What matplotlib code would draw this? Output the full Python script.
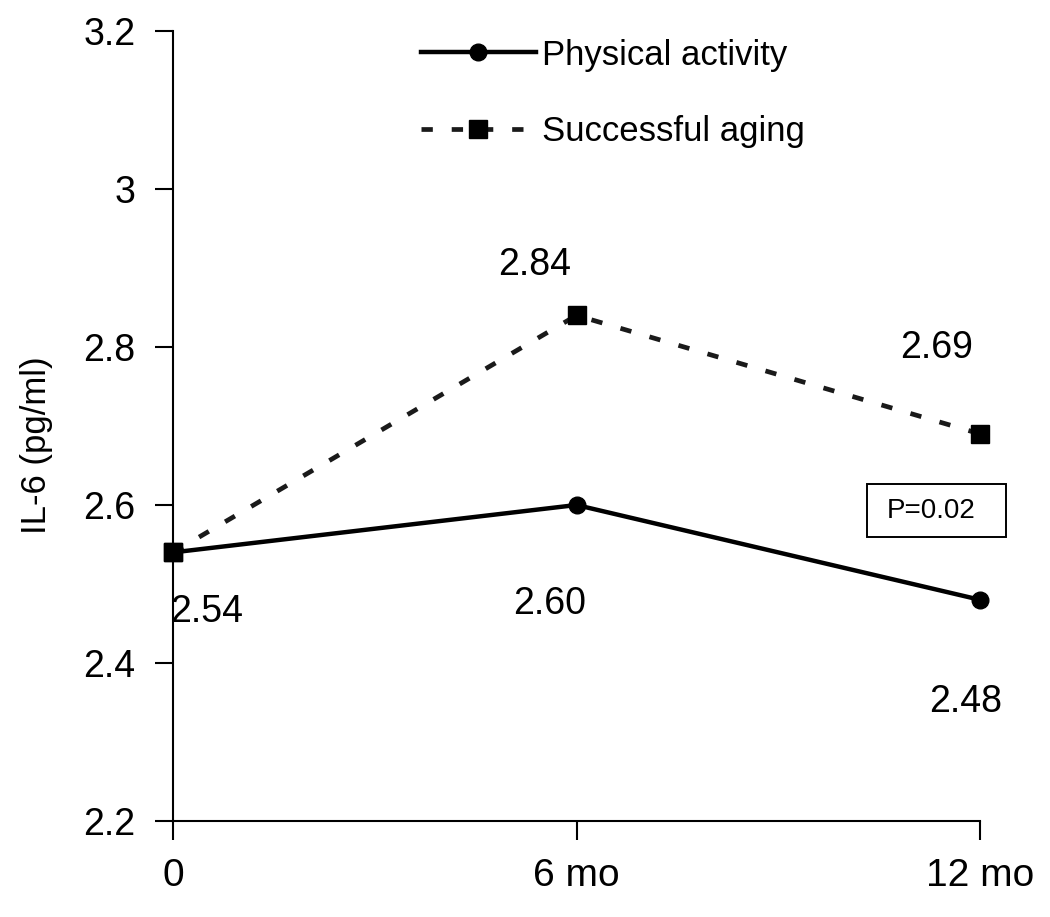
import matplotlib
matplotlib.use('Agg')
import matplotlib.pyplot as plt
from matplotlib.patches import Rectangle

plt.rcParams['font.family'] = ['Liberation Sans', 'DejaVu Sans']

x_pos = [0, 6, 12]
x_labels = ['0', '6 mo', '12 mo']
physical = [2.54, 2.60, 2.48]
aging = [2.54, 2.84, 2.69]
phys_labels = ['2.54', '2.60', '2.48']
aging_labels = ['', '2.84', '2.69']

fig = plt.figure(figsize=(10.5, 9.17), dpi=100)
ax = fig.add_axes([173 / 1050, 1 - 821 / 917, (980 - 173) / 1050, (821 - 31) / 917])

ax.plot(x_pos, aging, color='#1a1a1a', lw=3.4, ls=(0, (2.4, 4)),
        marker='s', ms=13, mfc='black', mec='black', label='Successful aging', clip_on=False)
ax.plot(x_pos, physical, color='black', lw=3.2, marker='o', ms=12,
        label='Physical activity', clip_on=False, zorder=3)
# square at 0 sits on top of the solid line
ax.plot(x_pos[:1], aging[:1], ls='none', marker='s', ms=13, color='black', clip_on=False, zorder=4)

ax.set_xlim(0, 12)
ax.set_ylim(2.2, 3.2)
ax.set_yticks([2.2, 2.4, 2.6, 2.8, 3.0, 3.2])
ax.set_yticklabels(['2.2', '2.4', '2.6', '2.8', '3', '3.2'], fontsize=27)
ax.set_xticks(x_pos)
ax.set_xticklabels(x_labels, fontsize=28)
ax.tick_params(axis='y', direction='out', length=13, width=1.5, pad=14)
ax.tick_params(axis='x', direction='out', length=14, width=1.5, pad=13)
for s in ['top', 'right']:
    ax.spines[s].set_visible(False)
for s in ['left', 'bottom']:
    ax.spines[s].set_linewidth(1.5)

fig.text(37 / 1050, 1 - 445 / 917, 'IL-6 (pg/ml)', fontsize=25, rotation=90,
         ha='center', va='center')

# value labels
fig.text(207 / 1050, 1 - 612 / 917, phys_labels[0], fontsize=27, ha='center', va='center')
fig.text(550 / 1050, 1 - 604 / 917, phys_labels[1], fontsize=27, ha='center', va='center')
fig.text(966 / 1050, 1 - 702 / 917, phys_labels[2], fontsize=27, ha='center', va='center')
fig.text(535 / 1050, 1 - 265 / 917, aging_labels[1], fontsize=27, ha='center', va='center')
fig.text(937 / 1050, 1 - 348 / 917, aging_labels[2], fontsize=27, ha='center', va='center')

# p-value box
fig.patches.append(Rectangle((867 / 1050, 1 - 537 / 917), 139 / 1050, 53 / 917,
                             transform=fig.transFigure, fc='white', ec='black', lw=1.4))
fig.text(887 / 1050, 1 - 511 / 917, 'P=0.02', fontsize=20, ha='left', va='center')

h, l = ax.get_legend_handles_labels()
leg = ax.legend([h[1], h[0]], [l[1], l[0]], loc='upper left', bbox_to_anchor=(0.29, 1.008),
                fontsize=25, frameon=False, handlelength=3.3, handletextpad=0.2,
                labelspacing=1.25, borderaxespad=0)

fig.savefig('out.png', dpi=100)
